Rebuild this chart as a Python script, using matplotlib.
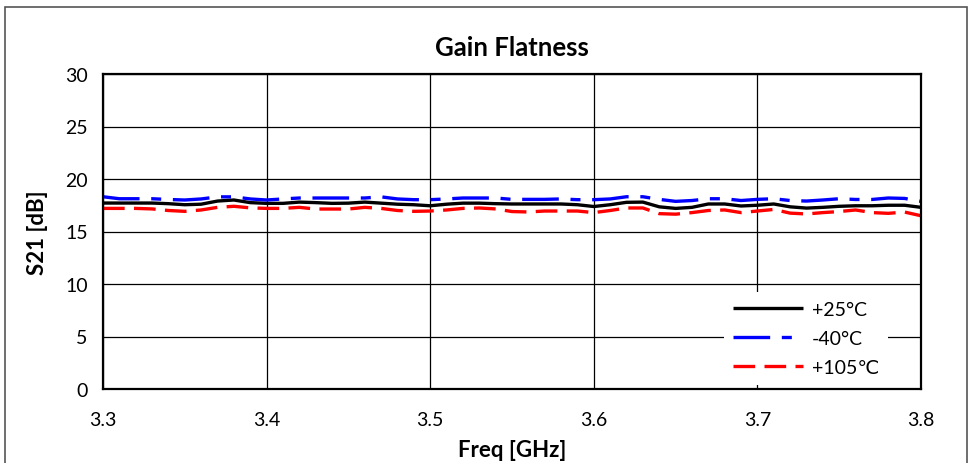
import matplotlib
matplotlib.use("Agg")
import matplotlib.pyplot as plt
from matplotlib.patches import Rectangle

plt.rcParams['font.family'] = ['Lato', 'DejaVu Sans']

freq_ghz = [3.30, 3.31, 3.32, 3.33, 3.34, 3.35, 3.36, 3.37, 3.38, 3.39,
            3.40, 3.41, 3.42, 3.43, 3.44, 3.45, 3.46, 3.47, 3.48, 3.49,
            3.50, 3.51, 3.52, 3.53, 3.54, 3.55, 3.56, 3.57, 3.58, 3.59,
            3.60, 3.61, 3.62, 3.63, 3.64, 3.65, 3.66, 3.67, 3.68, 3.69,
            3.70, 3.71, 3.72, 3.73, 3.74, 3.75, 3.76, 3.77, 3.78, 3.79,
            3.80]

s21_p25 = [17.71, 17.71, 17.71, 17.71, 17.65, 17.55, 17.60, 17.90, 18.00, 17.75,
           17.68, 17.68, 17.80, 17.75, 17.68, 17.70, 17.80, 17.70, 17.60, 17.55,
           17.45, 17.60, 17.70, 17.70, 17.65, 17.62, 17.62, 17.62, 17.62, 17.55,
           17.38, 17.55, 17.78, 17.80, 17.35, 17.20, 17.30, 17.62, 17.62, 17.43,
           17.50, 17.62, 17.35, 17.23, 17.30, 17.40, 17.45, 17.45, 17.50, 17.50,
           17.30]

s21_m40 = [18.31, 18.12, 18.12, 18.12, 18.05, 18.00, 18.10, 18.30, 18.30, 18.10,
           18.00, 18.10, 18.19, 18.19, 18.19, 18.19, 18.19, 18.30, 18.10, 18.03,
           18.03, 18.10, 18.19, 18.19, 18.19, 18.06, 18.06, 18.06, 18.10, 18.03,
           18.03, 18.10, 18.31, 18.31, 18.06, 17.87, 17.95, 18.12, 18.12, 17.95,
           18.06, 18.12, 17.95, 17.90, 18.00, 18.12, 18.05, 18.05, 18.19, 18.15,
           17.87]

s21_p105 = [17.20, 17.20, 17.20, 17.15, 17.00, 16.92, 17.05, 17.30, 17.40, 17.25,
            17.20, 17.20, 17.30, 17.14, 17.14, 17.14, 17.30, 17.20, 17.00, 16.92,
            16.95, 17.05, 17.20, 17.24, 17.15, 16.90, 16.86, 16.95, 16.95, 16.95,
            16.80, 17.00, 17.24, 17.24, 16.70, 16.65, 16.80, 17.00, 17.05, 16.80,
            16.95, 17.10, 16.75, 16.67, 16.80, 16.90, 17.05, 16.80, 16.73, 16.85,
            16.50]

x_ticks = [3.3, 3.4, 3.5, 3.6, 3.7, 3.8]
y_ticks = [0, 5, 10, 15, 20, 25, 30]

fig = plt.figure(figsize=(9.74, 4.64), dpi=100)
ax = fig.add_axes([103 / 974, 1 - 390 / 464, 818 / 974, 315 / 464])

# outer chart border
fig.patches.append(Rectangle((5 / 974, -0.05), 962 / 974, 1.05 - 8 / 464,
                             transform=fig.transFigure, fill=False,
                             edgecolor='#555555', linewidth=1.2))

ax.plot(freq_ghz, s21_p25, color='black', linewidth=2.4, label='+25\u00b0C',
        solid_capstyle='butt')
ax.plot(freq_ghz, s21_m40, color='#0000ff', linewidth=2.4, label='-40\u00b0C',
        dashes=(11, 3.5, 3, 3.5), dash_capstyle='butt')
ax.plot(freq_ghz, s21_p105, color='#ff0000', linewidth=2.4, label='+105\u2103',
        dashes=(6.5, 2.8), dash_capstyle='butt')

ax.set_xlim(3.3, 3.8)
ax.set_ylim(0, 30)
ax.set_xticks(x_ticks)
ax.set_yticks(y_ticks)
ax.set_xticklabels([f'{v:.1f}' for v in x_ticks])
ax.grid(True, color='black', linewidth=0.9)
ax.set_axisbelow(True)
ax.tick_params(length=0, labelsize=14)
ax.tick_params(axis='x', pad=16)
ax.tick_params(axis='y', pad=11)
for s in ax.spines.values():
    s.set_linewidth(1.6)
    s.set_color('black')

ax.set_title('Gain Flatness', fontsize=18.5, fontweight='bold', pad=14)
ax.set_xlabel('Freq [GHz]', fontsize=16, fontweight='bold', labelpad=8)
ax.set_ylabel('S21 [dB]', fontsize=16, fontweight='bold', labelpad=12)

leg = ax.legend(loc='lower right', bbox_to_anchor=(0.971, -0.018),
                frameon=True, fancybox=False, framealpha=1,
                facecolor='white', edgecolor='none', fontsize=14,
                handlelength=3.6, handletextpad=0.45, labelspacing=0.62,
                borderpad=0.45)

fig.savefig('out.png', dpi=100)
